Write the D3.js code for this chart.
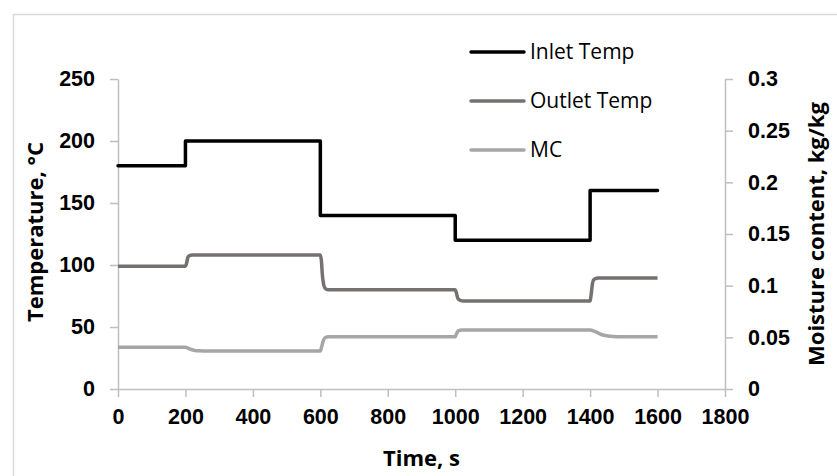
<!DOCTYPE html>
<html>
<head>
<meta charset="utf-8">
<script src="https://cdn.jsdelivr.net/npm/d3@7"></script>
<style>
  body { margin: 0; background: #fff; }
  svg { display: block; font-family: "Open Sans", sans-serif; }
</style>
</head>
<body>
<div id="chart"></div>
<script>
// time (s) and values
const inletTime = [0, 200, 200, 600, 600, 1000, 1000, 1400, 1400, 1600];
const inletTemp = [180, 180, 200, 200, 140, 140, 120, 120, 160, 160];

const outletTime = [0, 200, 203, 207, 212, 220, 600, 603, 606, 610, 615, 625, 1000, 1003, 1008, 1015, 1025, 1400, 1403, 1407, 1412, 1425, 1600];
const outletTemp = [99, 99, 101, 106, 107.5, 108, 108, 104, 92, 84, 81, 80, 80, 78, 73, 71.5, 71, 71, 76, 85, 88.5, 89.5, 89.5];

const mcTime = [0, 200, 210, 225, 240, 255, 600, 604, 609, 615, 625, 1000, 1004, 1010, 1020, 1400, 1415, 1435, 1460, 1480, 1600];
const mcValue = [0.0405, 0.0405, 0.039, 0.0375, 0.0369, 0.0368, 0.0368, 0.041, 0.047, 0.0498, 0.0506, 0.0506, 0.0535, 0.0564, 0.0571, 0.0571, 0.0555, 0.0525, 0.0510, 0.0506, 0.0506];

const xTicks = [0, 200, 400, 600, 800, 1000, 1200, 1400, 1600, 1800];
const yLeftTicks = [0, 50, 100, 150, 200, 250];
const yRightTicks = [0, 0.05, 0.1, 0.15, 0.2, 0.25, 0.3];

const seriesNames = ['Inlet Temp', 'Outlet Temp', 'MC'];
const seriesColors = ['#000000', '#767171', '#a6a6a6'];

const width = 837, height = 476;
const plot = { left: 118, right: 725, top: 79, bottom: 389 };
const axisColor = '#bfbfbf';

const svg = d3.select('#chart').append('svg')
    .attr('width', width)
    .attr('height', height);

// chart area border
svg.append('rect')
    .attr('x', 13.5).attr('y', 14.5)
    .attr('width', 840).attr('height', 480)
    .attr('fill', 'none')
    .attr('stroke', '#d9d9d9')
    .attr('stroke-width', 1.5);

const x = d3.scaleLinear().domain([0, 1800]).range([plot.left, plot.right]);
const yL = d3.scaleLinear().domain([0, 250]).range([plot.bottom, plot.top]);
const yR = d3.scaleLinear().domain([0, 0.3]).range([plot.bottom, plot.top]);

function styleAxis(g) {
    g.select('.domain').attr('stroke', axisColor).attr('stroke-width', 1.5);
    g.selectAll('.tick line').attr('stroke', axisColor).attr('stroke-width', 1.5);
    g.selectAll('.tick text')
        .attr('fill', '#000')
        .attr('font-size', 21.5)
        .attr('font-weight', 'bold');
}

svg.append('g')
    .attr('transform', `translate(0,${plot.bottom})`)
    .call(d3.axisBottom(x).tickValues(xTicks).tickFormat(d3.format('d')).tickSize(8).tickSizeOuter(0).tickPadding(12))
    .call(styleAxis);

svg.append('g')
    .attr('transform', `translate(${plot.left},0)`)
    .call(d3.axisLeft(yL).tickValues(yLeftTicks).tickFormat(d3.format('d')).tickSize(8).tickSizeOuter(0).tickPadding(15))
    .call(styleAxis);

svg.append('g')
    .attr('transform', `translate(${plot.right},0)`)
    .call(d3.axisRight(yR).tickValues(yRightTicks).tickFormat(d => String(+d.toFixed(2))).tickSize(8).tickSizeOuter(0).tickPadding(15))
    .call(styleAxis);

// series
const lineL = d3.line().x(d => x(d[0])).y(d => yL(d[1])).curve(d3.curveMonotoneX);
const lineR = d3.line().x(d => x(d[0])).y(d => yR(d[1])).curve(d3.curveMonotoneX);
const stepLine = d3.line().x(d => x(d[0])).y(d => yL(d[1]));

svg.append('path')
    .datum(mcTime.map((t, i) => [t, mcValue[i]]))
    .attr('d', lineR)
    .attr('fill', 'none')
    .attr('stroke', seriesColors[2])
    .attr('stroke-width', 3.5)
    .attr('stroke-linejoin', 'round');

svg.append('path')
    .datum(outletTime.map((t, i) => [t, outletTemp[i]]))
    .attr('d', lineL)
    .attr('fill', 'none')
    .attr('stroke', seriesColors[1])
    .attr('stroke-width', 3.5)
    .attr('stroke-linejoin', 'round');

svg.append('path')
    .datum(inletTime.map((t, i) => [t, inletTemp[i]]))
    .attr('d', stepLine)
    .attr('fill', 'none')
    .attr('stroke', seriesColors[0])
    .attr('stroke-width', 3.5)
    .attr('stroke-linejoin', 'round')
    .attr('stroke-linecap', 'round');

// axis titles
svg.append('text')
    .attr('x', (plot.left + plot.right) / 2)
    .attr('y', 466)
    .attr('text-anchor', 'middle')
    .attr('font-size', 22)
    .attr('font-weight', 'bold')
    .text('Time, s');

svg.append('text')
    .attr('transform', `translate(43,${(plot.top + plot.bottom) / 2 - 2}) rotate(-90)`)
    .attr('text-anchor', 'middle')
    .attr('font-size', 22)
    .attr('font-weight', 'bold')
    .text('Temperature, °C');

svg.append('text')
    .attr('transform', `translate(824,${(plot.top + plot.bottom) / 2}) rotate(-90)`)
    .attr('text-anchor', 'middle')
    .attr('font-size', 22)
    .attr('font-weight', 'bold')
    .text('Moisture content, kg/kg');

// legend
const legend = svg.append('g').attr('transform', 'translate(471,52)');
seriesNames.forEach((name, i) => {
    const row = legend.append('g').attr('transform', `translate(0,${i * 49})`);
    row.append('line')
        .attr('x1', 0).attr('x2', 53)
        .attr('stroke', seriesColors[i])
        .attr('stroke-width', 3.5)
        .attr('stroke-linecap', 'round');
    row.append('text')
        .attr('x', 59)
        .attr('dy', '0.35em')
        .attr('font-size', 21)
        .text(name);
});
</script>
</body>
</html>
